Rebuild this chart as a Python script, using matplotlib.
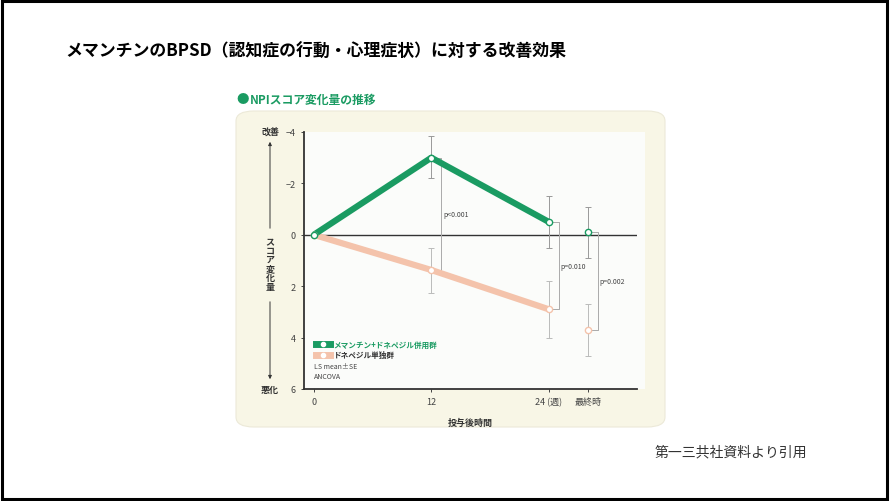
import matplotlib
matplotlib.use("Agg")
import matplotlib.pyplot as plt
from matplotlib.patches import FancyBboxPatch, Rectangle, FancyArrowPatch
from matplotlib.lines import Line2D

plt.rcParams['font.family'] = ['Noto Sans CJK JP', 'DejaVu Sans']

# data (weeks; "最終時" placed at 28)
weeks = [0, 12, 24, 28]
tick_labels = ["0", "12", "24 (週)", "最終時"]
combo_mean = [0.0, -3.0, -0.5, -0.1]
combo_se_lo = [0.0, -3.85, -1.5, -1.1]
combo_se_hi = [0.0, -2.2, 0.5, 0.9]
mono_mean = [0.0, 1.37, 2.9, 3.7]
mono_se_lo = [0.0, 0.5, 1.8, 2.7]
mono_se_hi = [0.0, 2.25, 4.0, 4.7]
p_labels = ["p<0.001", "p=0.010", "p=0.002"]

GREEN = "#1a9b62"
PEACH = "#f4c3ab"
W, H = 890, 502

fig = plt.figure(figsize=(8.9, 5.02), dpi=100)
fig.patch.set_facecolor("white")

# outer frame
fig.add_artist(Rectangle((0.002, 0.003), 0.995, 0.994, transform=fig.transFigure,
                         fill=False, edgecolor="black", linewidth=2.2))

fig.text(65 / W, 1 - 52 / H, "メマンチンのBPSD（認知症の行動・心理症状）に対する改善効果",
         fontsize=12.2, fontweight="bold", va="center", ha="left")
fig.text(655 / W, 1 - 452 / H, "第一三共社資料より引用", fontsize=10, color="#333333",
         va="center", ha="left")

# cream panel
fig.add_artist(FancyBboxPatch((236 / W, 1 - 428 / H), (665 - 236) / W, (428 - 112) / H,
                              boxstyle="round,pad=0,rounding_size=0.02",
                              transform=fig.transFigure, facecolor="#f8f6e6",
                              edgecolor="#ece9d8", linewidth=0.8, zorder=-2))
fig.text(236 / W, 1 - 100 / H, "●", color=GREEN, fontsize=9, va="center", ha="left")
fig.text(250 / W, 1 - 100 / H, "NPIスコア変化量の推移", color=GREEN, fontsize=8.5,
         fontweight="bold", va="center", ha="left")

# plot area white-ish background
fig.add_artist(Rectangle((304 / W, 1 - 390 / H), (645 - 304) / W, (390 - 133) / H,
                         transform=fig.transFigure, facecolor="#fbfcfa",
                         edgecolor="none", zorder=-1))

ax = fig.add_axes([304 / W, 1 - 390 / H, (637 - 304) / W, (390 - 133) / H])
ax.set_zorder(2)
ax.set_facecolor("none")
ax.set_xlim(-1.0, 33.0)
ax.set_ylim(6, -4)
ax.set_yticks([-4, -2, 0, 2, 4, 6])
ax.set_yticklabels(["−4", "−2", "0", "2", "4", "6"])
ax.set_xticks(weeks)
ax.set_xticklabels(tick_labels)
ax.tick_params(axis="both", labelsize=6.5, colors="#444444", length=2.5, width=0.7)
for s in ["top", "right"]:
    ax.spines[s].set_visible(False)
for s in ["left", "bottom"]:
    ax.spines[s].set_linewidth(1.3)
    ax.spines[s].set_color("#333333")
ax.axhline(0, color="#333333", linewidth=1.0, zorder=1)
ax.set_xlabel("投与後時間", fontsize=6.5, fontweight="bold", color="#333333", labelpad=8)

# error bars
for x, lo, hi in zip(weeks[1:], combo_se_lo[1:], combo_se_hi[1:]):
    ax.vlines(x, lo, hi, color="#999999", linewidth=0.7, zorder=2)
    ax.hlines([lo, hi], x - 0.3, x + 0.3, color="#999999", linewidth=0.7, zorder=2)
for x, lo, hi in zip(weeks[1:], mono_se_lo[1:], mono_se_hi[1:]):
    ax.vlines(x, lo, hi, color="#bbbbbb", linewidth=0.7, zorder=2)
    ax.hlines([lo, hi], x - 0.3, x + 0.3, color="#bbbbbb", linewidth=0.7, zorder=2)

# lines
ax.plot(weeks[:3], mono_mean[:3], color=PEACH, linewidth=4.5, solid_capstyle="butt", zorder=3)
ax.plot(weeks[:3], combo_mean[:3], color=GREEN, linewidth=4.5, solid_capstyle="butt", zorder=4)
ax.plot(weeks, mono_mean, linestyle="none", marker="o", markersize=4.5,
        markerfacecolor="white", markeredgecolor=PEACH, markeredgewidth=1.0, zorder=5)
ax.plot(weeks, combo_mean, linestyle="none", marker="o", markersize=4.5,
        markerfacecolor="white", markeredgecolor=GREEN, markeredgewidth=1.0, zorder=5)

# significance brackets
for x, g, m, lab in zip(weeks[1:], combo_mean[1:], mono_mean[1:], p_labels):
    bx = x + 1.0
    ax.plot([x, bx, bx, x], [g, g, m, m], color="#aaaaaa", linewidth=0.7, zorder=2)
    ax.text(bx + 0.2, (g + m) / 2, lab, fontsize=5, color="#444444", va="center", ha="left")

# legend
handles = [
    Line2D([], [], color=GREEN, linewidth=5, marker="o", markersize=3,
           markerfacecolor="white", markeredgecolor="white"),
    Line2D([], [], color=PEACH, linewidth=5, marker="o", markersize=3,
           markerfacecolor="white", markeredgecolor="white"),
]
leg = ax.legend(handles, ["メマンチン+ドネペジル併用群", "ドネペジル単独群"],
                loc="lower left", bbox_to_anchor=(0.02, 0.095), frameon=False,
                fontsize=5.5, handlelength=1.8, handletextpad=0.5,
                labelspacing=0.15, borderaxespad=0.3)
leg.get_texts()[0].set_color(GREEN)
leg.get_texts()[0].set_fontweight("bold")
leg.get_texts()[1].set_color("#333333")
leg.get_texts()[1].set_fontweight("bold")
ax.text(0.03, 0.035, "LS mean±SE\nANCOVA", transform=ax.transAxes, fontsize=5,
        color="#444444", va="bottom", ha="left", linespacing=1.3)

# left-side arrow and labels
fig.text(270 / W, 1 - 133 / H, "改善", fontsize=6.5, fontweight="bold", color="#333333",
         ha="center", va="center")
fig.text(270 / W, 1 - 390 / H, "悪化", fontsize=6.5, fontweight="bold", color="#333333",
         ha="center", va="center")
fig.text(270 / W, 1 - 265 / H, "\n".join("スコア変化量"), fontsize=6.5, fontweight="bold",
         color="#333333", ha="center", va="center", linespacing=1.0)
fig.add_artist(FancyArrowPatch((270 / W, 1 - 232 / H), (270 / W, 1 - 140 / H),
               transform=fig.transFigure, arrowstyle="-|>", mutation_scale=5,
               color="#333333", linewidth=0.7))
fig.add_artist(FancyArrowPatch((270 / W, 1 - 300 / H), (270 / W, 1 - 383 / H),
               transform=fig.transFigure, arrowstyle="-|>", mutation_scale=5,
               color="#333333", linewidth=0.7))

fig.savefig("out.png", dpi=100)
